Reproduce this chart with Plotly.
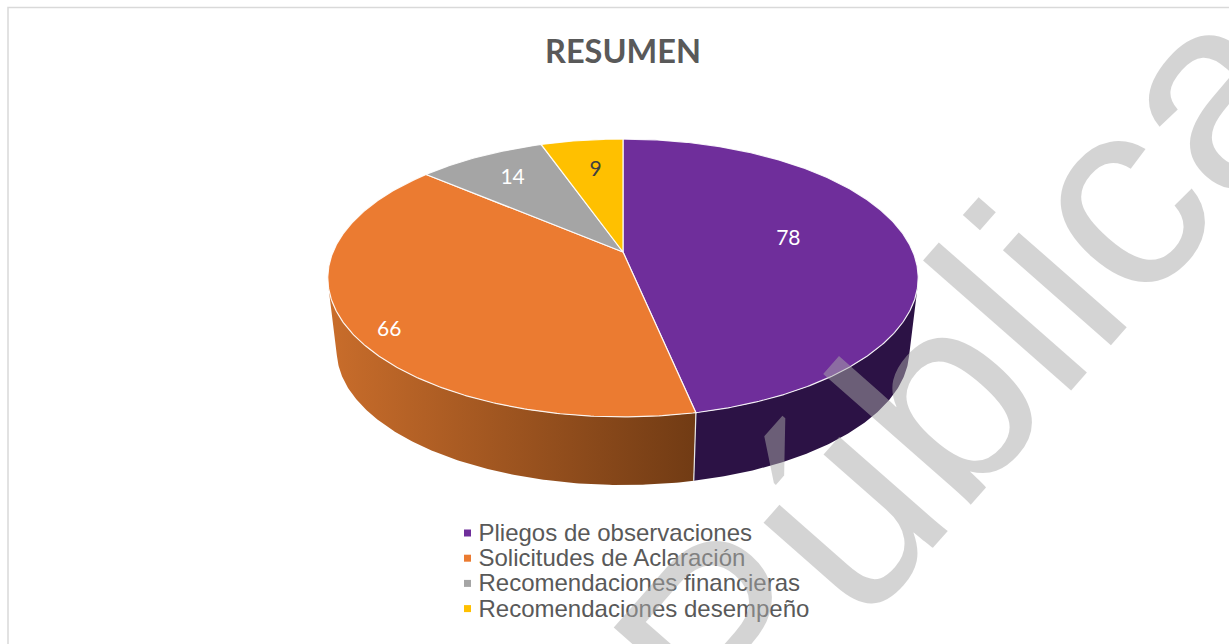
import math
import plotly.graph_objects as go

categories = ["Pliegos de observaciones", "Solicitudes de Aclaración",
              "Recomendaciones financieras", "Recomendaciones desempeño"]
values = [78, 66, 14, 9]
colors = ["#6F2E9B", "#EB7B31", "#A5A5A5", "#FFC000"]
label_colors = ["#FFFFFF", "#FFFFFF", "#FFFFFF", "#404040"]
label_radius = [0.591, 0.894, 0.75, 0.71]
label_shift_deg = [-4.4, -4.8, 0, 1.0]
side_fill = ["#2C1245", None, None, None]
orange_gradient = [[0, "#C96D2B"], [1, "#713B14"]]

W, H = 1229, 644
CX, CY = 623, 252
BX, BY, K = 290.0, 134.1, 0.187
DEPTH, BOTTOM_SCALE = 73.0, 0.97
FRONT_FROM, FRONT_TO = 103.0, 257.0
LABEL_DROP = 1.5


def project(theta, r=1.0, scale=1.0, drop=0.0):
    t = math.radians(theta)
    u, v = r * math.sin(t), -r * math.cos(t)
    d = 1 - K * v
    return CX + scale * BX * u / d, CY + drop + scale * BY * v / d


def arc(a, b, **kw):
    n = max(2, int(abs(b - a)) * 2)
    return [project(a + (b - a) * i / n, **kw) for i in range(n + 1)]


total = sum(values)
edges = [0.0]
for val in values:
    edges.append(edges[-1] + val / total * 360)

fig = go.Figure()

# side wall of the disc (only the part that faces the viewer)
for i, cat in enumerate(categories):
    a, b = max(edges[i], FRONT_FROM), min(edges[i + 1], FRONT_TO)
    if a >= b:
        continue
    top = arc(a, b)
    bottom = arc(b, a, scale=BOTTOM_SCALE, drop=DEPTH)
    pts = top + bottom + [top[0]]
    kw = dict(fill="toself", mode="lines", line=dict(width=0), hoverinfo="skip", showlegend=False)
    if side_fill[i]:
        kw["fillcolor"] = side_fill[i]
    else:
        kw["fillgradient"] = dict(type="horizontal", colorscale=orange_gradient)
    fig.add_trace(go.Scatter(x=[p[0] for p in pts], y=[p[1] for p in pts], **kw))

# divider on the wall
for e in edges[1:-1]:
    if FRONT_FROM < e < FRONT_TO:
        p, q = project(e), project(e, scale=BOTTOM_SCALE, drop=DEPTH)
        fig.add_trace(go.Scatter(x=[p[0], q[0]], y=[p[1], q[1]], mode="lines",
                                 line=dict(color="#E8E8E8", width=1.2),
                                 hoverinfo="skip", showlegend=False))

# top face
for i, cat in enumerate(categories):
    pts = [(CX, CY)] + arc(edges[i], edges[i + 1]) + [(CX, CY)]
    fig.add_trace(go.Scatter(x=[p[0] for p in pts], y=[p[1] for p in pts], fill="toself",
                             fillcolor=colors[i], mode="lines",
                             line=dict(color="rgba(255,255,255,0.9)", width=1.2),
                             name=cat, hoverinfo="name", showlegend=False))

# data labels
for i, val in enumerate(values):
    mid = (edges[i] + edges[i + 1]) / 2 + label_shift_deg[i]
    x, y = project(mid, r=label_radius[i], drop=LABEL_DROP)
    fig.add_trace(go.Scatter(x=[x], y=[y], mode="text", text=[str(val)],
                             textposition="middle center",
                             textfont=dict(family="Lato", size=21, color=label_colors[i]),
                             hoverinfo="skip", showlegend=False))

# legend
LEG_X, LEG_Y, LEG_STEP = 467.5, 533, 25.2
for i, cat in enumerate(categories):
    y = LEG_Y + i * LEG_STEP
    fig.add_trace(go.Scatter(x=[LEG_X], y=[y], mode="markers",
                             marker=dict(symbol="square", size=7, color=colors[i]),
                             hoverinfo="skip", showlegend=False))
    fig.add_trace(go.Scatter(x=[LEG_X + 11], y=[y + 2], mode="text", text=[cat],
                             textposition="middle right",
                             textfont=dict(family="Liberation Sans", size=24, color="#595959"),
                             hoverinfo="skip", showlegend=False))

fig.add_shape(type="rect", x0=8, y0=7.5, x1=W + 20, y1=H + 20, xref="x", yref="y",
              line=dict(color="#D9D9D9", width=1.5), fillcolor="rgba(0,0,0,0)", layer="below")

fig.add_annotation(text="Pública", x=964, y=370, xref="x", yref="y", showarrow=False,
                   textangle=-48.7, font=dict(family="Liberation Sans", size=272,
                                              color="rgba(169,169,169,0.5)"))

fig.update_layout(
    width=W, height=H, autosize=False,
    margin=dict(l=0, r=0, t=0, b=0),
    paper_bgcolor="white", plot_bgcolor="white",
    title=dict(text="<b>RESUMEN</b>", x=623 / W, xanchor="center", y=1 - 52 / H, yanchor="middle",
               font=dict(family="Lato", size=32.5, color="#595959")),
    xaxis=dict(range=[0, W], visible=False, fixedrange=True),
    yaxis=dict(range=[H, 0], visible=False, fixedrange=True),
    showlegend=False,
)

fig.write_html("out.html", config={"displayModeBar": False},
               post_script="document.body.style.margin='0';document.body.style.overflow='hidden';")
